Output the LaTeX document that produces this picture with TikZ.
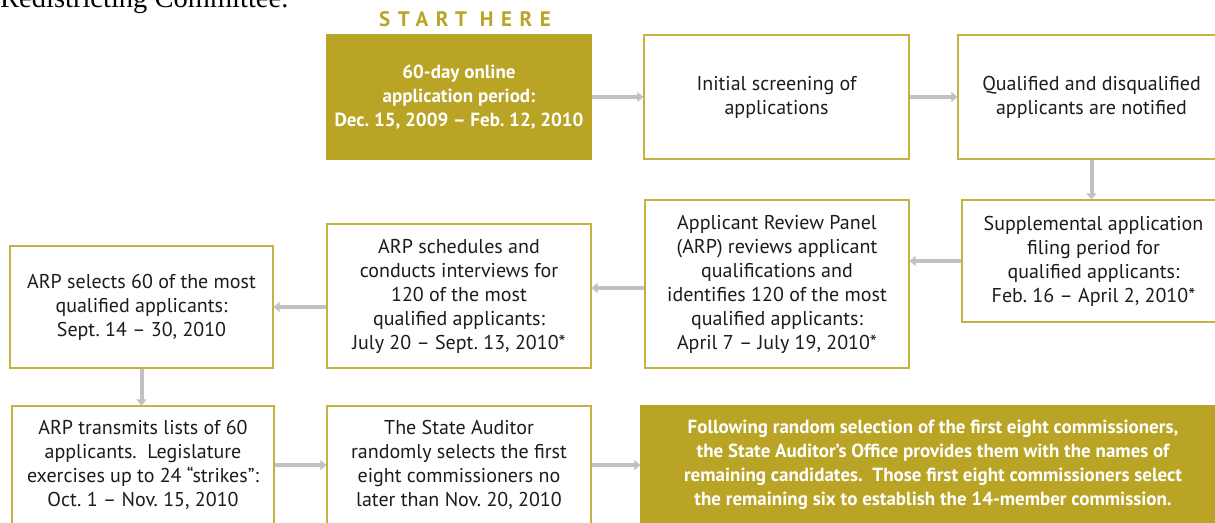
\documentclass[tikz,border=0pt]{standalone}
\usepackage{fontspec}
\setmainfont{PT Sans}
\newfontfamily\bodyserif{Liberation Serif}
\newfontfamily\startfont[LetterSpace=36]{PT Sans Bold}
\usepackage{tikz}
\usetikzlibrary{arrows.meta}

\definecolor{goldfill}{RGB}{185,164,38}
\definecolor{boxline}{RGB}{198,178,62}
\definecolor{arrowgray}{RGB}{192,192,197}
\definecolor{textdark}{RGB}{30,27,28}

\tikzset{
  stepbox/.style={draw=boxline, line width=1.2pt, fill=white, text=textdark,
    align=center, inner sep=0pt, font=\fontsize{20}{24}\selectfont},
  goldbox/.style={stepbox, fill=goldfill, draw=goldfill, text=white,
    font=\fontsize{19}{24}\selectfont\bfseries},
  flow/.style={draw=arrowgray, line width=4pt, -{Triangle[length=6pt,width=10pt]}}
}

\begin{document}
\begin{tikzpicture}[x=1pt, y=-1pt]
    % page frame, 1 unit = 1 pixel of the original
    \useasboundingbox (0,0) rectangle (1215,522);

    % the cut-off line of body text above the chart
    \node[anchor=base west, inner sep=0pt, text=black, font=\bodyserif\fontsize{28.5}{32}\selectfont] (prev) at (0,7.5) {Redistricting Committee.};

    % first row
    \node[text=goldfill, font=\startfont\fontsize{21}{24}\selectfont] (start) at (465,19) {START HERE};
    \node[goldbox, minimum width=264pt, minimum height=124pt] (online) at (459,97)
        {60-day online\\application period:\\Dec.~15, 2009 -- Feb.~12, 2010};
    \node[stepbox, minimum width=265pt, minimum height=124pt] (screen) at (776.5,97)
        {Initial screening of\\applications};
    \node[stepbox, minimum width=267pt, minimum height=124pt] (notify) at (1091.5,97)
        {Qualified and disqualified\\applicants are notified};

    % second row (runs right to left)
    \node[stepbox, minimum width=263pt, minimum height=122pt] (supp) at (1093.5,261)
        {Supplemental application\\filing period for\\qualified applicants:\\Feb.~16 -- April 2, 2010*};
    \node[stepbox, minimum width=264pt, minimum height=168pt] (review) at (777,284)
        {Applicant Review Panel\\(ARP) reviews applicant\\qualifications and\\identifies 120 of the most\\qualified applicants:\\April 7 -- July 19, 2010*};
    \node[stepbox, minimum width=264pt, minimum height=144pt] (sched) at (459,296)
        {ARP schedules and\\conducts interviews for\\120 of the most\\qualified applicants:\\July 20 -- Sept.~13, 2010*};
    \node[stepbox, minimum width=263pt, minimum height=122pt] (select) at (141.5,307)
        {ARP selects 60 of the most\\qualified applicants:\\Sept.~14 -- 30, 2010};

    % third row
    \node[stepbox, minimum width=262pt, minimum height=118pt] (trans) at (143,465)
        {ARP transmits lists of 60\\applicants.\ \ Legislature\\exercises up to 24 ``strikes'':\\Oct.~1 -- Nov.~15, 2010};
    \node[stepbox, minimum width=264pt, minimum height=118pt] (auditor) at (459,465)
        {The State Auditor\\randomly selects the first\\eight commissioners no\\later than Nov.~20, 2010};
    \node[goldbox, minimum width=584pt, minimum height=118pt] (final) at (933,465)
        {Following random selection of the first eight commissioners,\\the State Auditor's Office provides them with the names of\\remaining candidates.\ \ Those first eight commissioners select\\the remaining six to establish the 14-member commission.};

    % connectors
    \draw[flow] (online) -- (screen);
    \draw[flow] (screen) -- (notify);
    \draw[flow] (notify) -- (notify |- supp.north);
    \draw[flow] (supp) -- (supp -| review.east);
    \draw[flow] ([yshift=-4pt]review.west) -- ([yshift=-4pt]review.west -| sched.east);
    \draw[flow] (sched.west |- select) -- (select);
    \draw[flow] (select) -- (select |- trans.north);
    \draw[flow] (trans) -- (auditor);
    \draw[flow] (auditor) -- (final);
\end{tikzpicture}
\end{document}
